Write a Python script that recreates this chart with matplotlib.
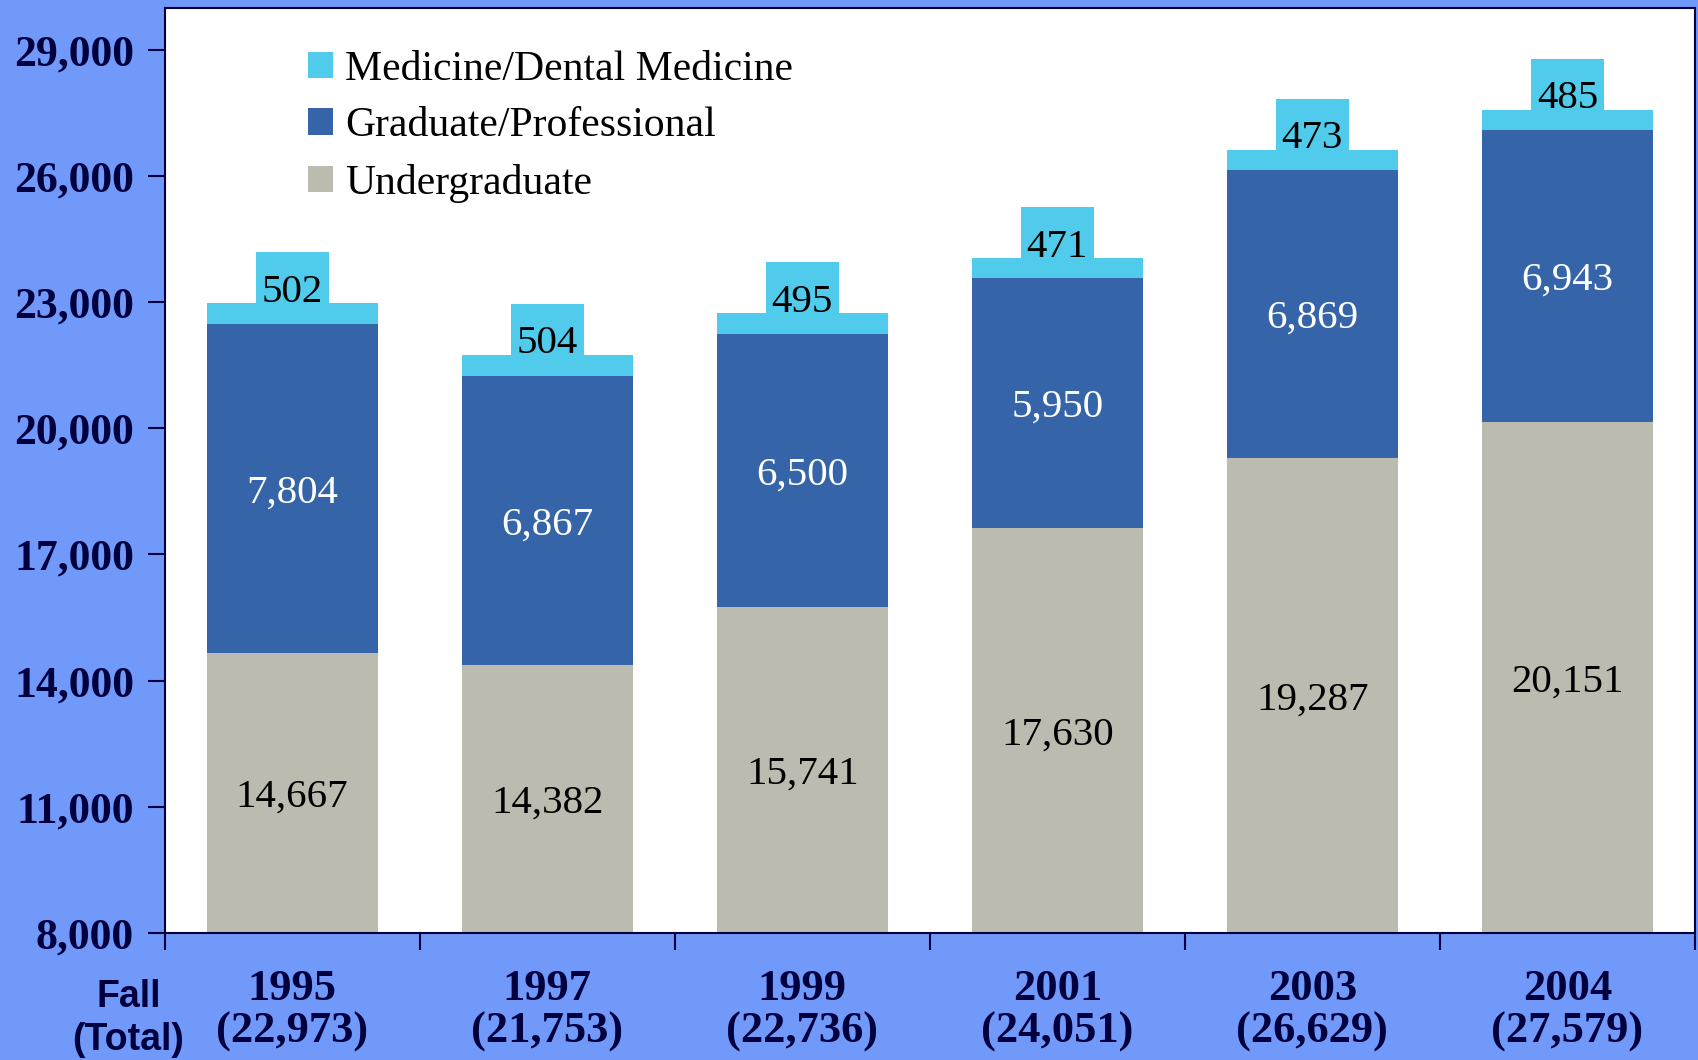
import matplotlib
matplotlib.use('Agg')
import matplotlib.pyplot as plt
import numpy as np

years = ['1995', '1997', '1999', '2001', '2003', '2004']
totals = ['22,973', '21,753', '22,736', '24,051', '26,629', '27,579']
undergrad = [14667, 14382, 15741, 17630, 19287, 20151]
graduate = [7804, 6867, 6500, 5950, 6869, 6943]
medicine = [502, 504, 495, 471, 473, 485]

bg = '#7099F9'
navy = '#00003F'
c_med = '#50CBEB'
c_grad = '#3565A8'
c_ug = '#BBBCAF'

fig = plt.figure(figsize=(16.99, 10.60), dpi=100, facecolor=bg)
ax = fig.add_axes([0.0969, 0.120, 0.9007, 0.8725])
ax.set_facecolor('white')

x = np.arange(len(years))
base = 8000
ug_h = np.array(undergrad) - base
w = 0.67
ax.bar(x, ug_h, bottom=base, width=w, color=c_ug, label='Undergraduate', zorder=2)
b2 = base + ug_h
ax.bar(x, graduate, bottom=b2, width=w, color=c_grad, label='Graduate/Professional', zorder=2)
b3 = b2 + np.array(graduate)
ax.bar(x, medicine, bottom=b3, width=w, color=c_med, label='Medicine/Dental Medicine', zorder=2)
tops = b3 + np.array(medicine)

# label boxes above the bars
ax.bar(x, 1210, bottom=tops, width=0.286, color=c_med, zorder=2)

serif = 'Liberation Serif'
for i in range(len(years)):
    ax.text(x[i], (base + b2[i]) / 2, f'{undergrad[i]:,}', ha='center', va='center_baseline',
            fontsize=29.5, family=serif, color='black', zorder=3)
    ax.text(x[i], (b2[i] + b3[i]) / 2, f'{graduate[i]:,}', ha='center', va='center_baseline',
            fontsize=29.5, family=serif, color='white', zorder=3)
    ax.text(x[i], tops[i] + 30, f'{medicine[i]}', ha='center', va='baseline',
            fontsize=29.5, family=serif, color='black', zorder=3)

ax.set_xlim(-0.5, 5.5)
ax.set_ylim(8000, 30000)
ax.set_yticks(np.arange(8000, 29001, 3000))
ax.set_yticklabels([f'{v:,}' for v in range(8000, 29001, 3000)],
                   fontsize=31.5, family=serif, fontweight='bold', color=navy)
ax.tick_params(axis='y', length=12, width=1.5, color=navy, pad=10)

ax.set_xticks(np.arange(-0.5, 5.6, 1.0))
ax.set_xticklabels([])
ax.tick_params(axis='x', which='major', length=12, width=1.5, color=navy)
ax.set_xticks(x, minor=True)
ax.set_xticklabels([f'{y}\n({t})' for y, t in zip(years, totals)], minor=True,
                   fontsize=32, family=serif, fontweight='bold', color=navy, linespacing=1.1)
ax.tick_params(axis='x', which='minor', length=0, pad=26)

for s in ax.spines.values():
    s.set_color(navy)
    s.set_linewidth(1.5)

fig.text(0.0755, 0.076, 'Fall\n(Total)', ha='center', va='top', fontsize=27,
         family='Liberation Sans', fontweight='bold', color=navy, linespacing=1.25)

h, l = ax.get_legend_handles_labels()
leg = ax.legend(h[::-1], l[::-1], loc='upper left', bbox_to_anchor=(0.069, 0.995),
                frameon=False, prop={'family': serif, 'size': 30},
                handlelength=0.6, handleheight=0.6, handletextpad=0.3, labelspacing=0.44)

fig.savefig('out.png', dpi=100, facecolor=bg)
